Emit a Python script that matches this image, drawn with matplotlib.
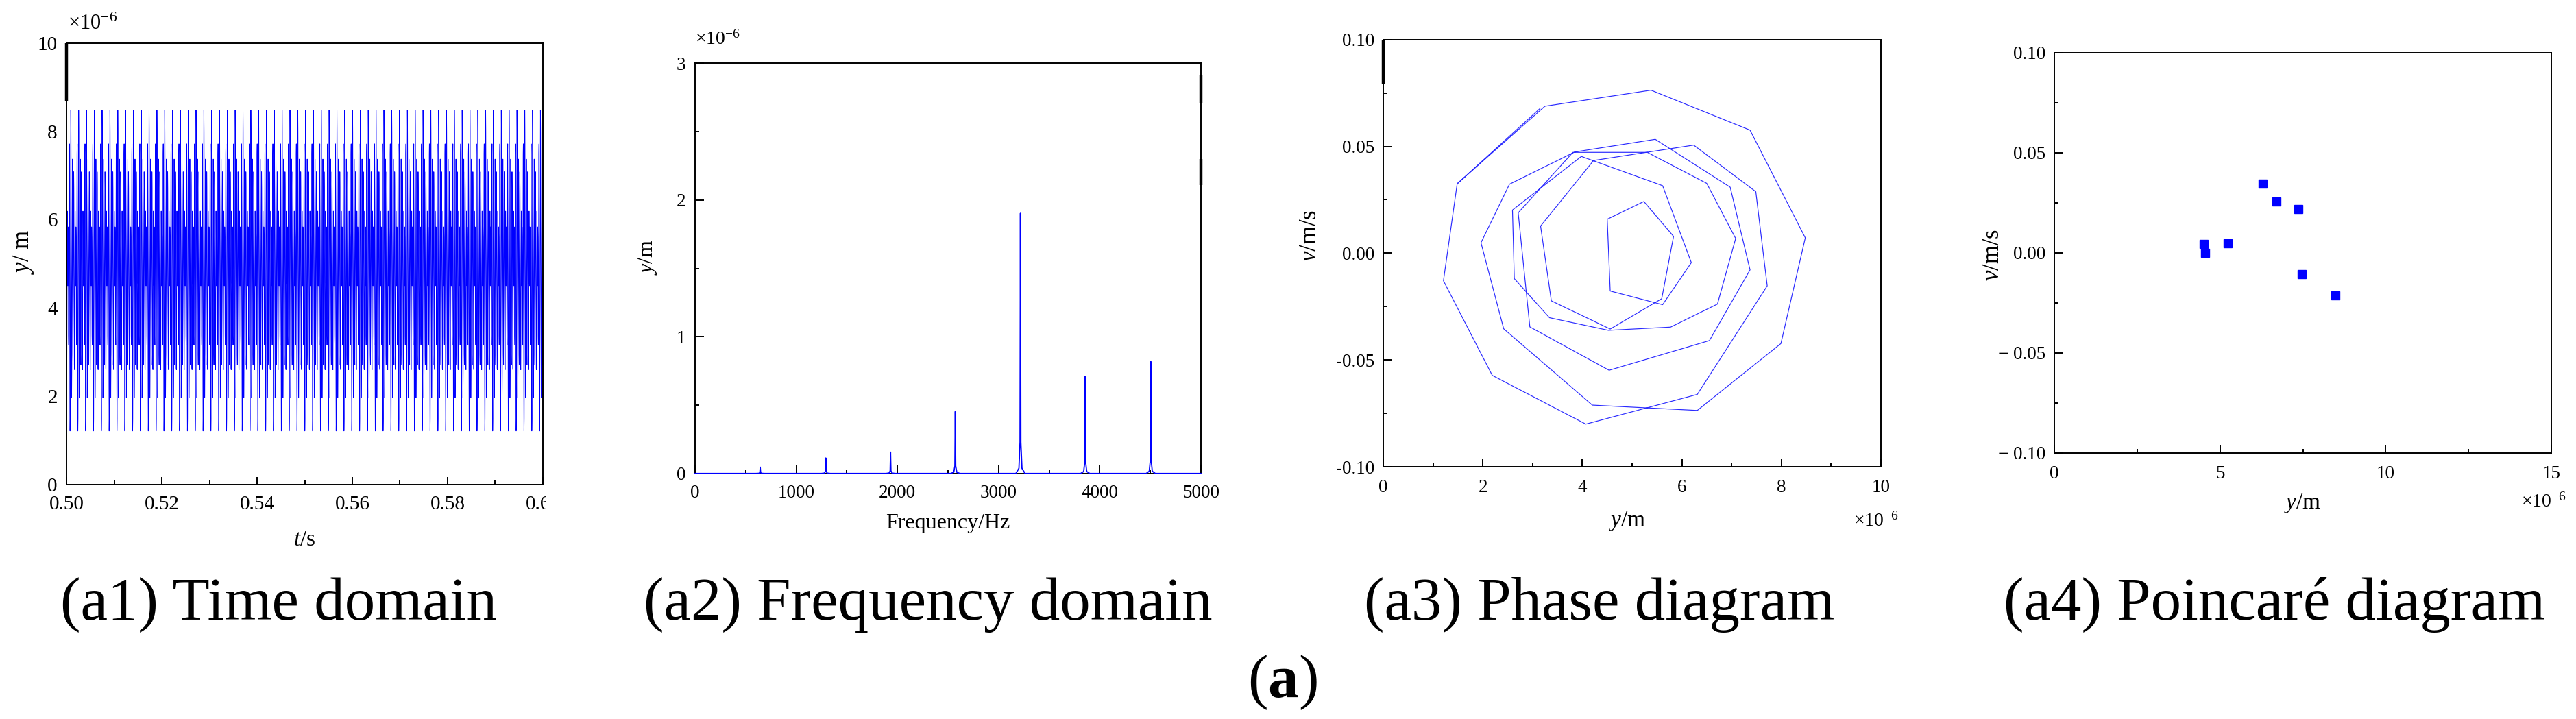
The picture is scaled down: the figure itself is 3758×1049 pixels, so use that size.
import numpy as np
import matplotlib
matplotlib.use('Agg')
import matplotlib.pyplot as plt
from matplotlib.ticker import MultipleLocator, FormatStrFormatter, FuncFormatter
from matplotlib.patches import Rectangle

plt.rcParams['font.family'] = ['Liberation Serif', 'DejaVu Serif']
plt.rcParams['mathtext.fontset'] = 'custom'
plt.rcParams['mathtext.rm'] = 'Liberation Serif'
plt.rcParams['mathtext.it'] = 'Liberation Serif:italic'
plt.rcParams['mathtext.bf'] = 'Liberation Serif:bold'
plt.rcParams['axes.unicode_minus'] = False

# (a3) phase orbit read vertex by vertex, y in 1e-6 m, v in m/s
# one period (first n_period samples) plus two more samples at the end
orbit_y = [1.485, 3.248, 5.38, 7.37, 8.48, 7.99, 6.31, 4.20, 2.42, 1.963,
           2.536, 3.85, 5.466, 6.971, 7.37, 6.554, 4.538, 2.945, 2.711, 3.81,
           5.305, 6.499, 7.081, 6.715, 5.773, 4.525, 3.34, 2.633, 2.596, 3.98,
           5.613, 6.19, 5.613, 4.56, 4.50, 5.236, 5.833, 5.595, 4.56, 3.377,
           3.161, 4.226, 6.237, 7.486, 7.715, 6.31, 4.07, 2.19, 1.209,
           1.485, 3.147]
orbit_v = [0.0325, 0.0688, 0.0763, 0.0576, 0.0072, -0.0423, -0.0736, -0.0711, -0.0354, 0.0049,
           0.0323, 0.0474, 0.0533, 0.0309, -0.0078, -0.0409, -0.0548, -0.0345, 0.0189, 0.0472,
           0.0472, 0.0327, 0.0069, -0.0238, -0.0346, -0.0361, -0.0302, -0.0119, 0.0202, 0.0453,
           0.0316, -0.0044, -0.0241, -0.0177, 0.0159, 0.0242, 0.0079, -0.0213, -0.0355, -0.0223,
           0.0127, 0.0434, 0.0506, 0.0288, -0.0153, -0.0661, -0.0800, -0.0572, -0.0129,
           0.0325, 0.0677]
n_period = 49

# (a1) the same samples repeat; spike spacing and first spike
t_period = 0.001643
t_first_peak = 0.50091

# (a2) spectrum peaks
peak_freq = [644, 1292, 1932, 2572, 3216, 3856, 4504]
peak_amp = [0.046, 0.113, 0.156, 0.453, 1.903, 0.711, 0.818]

# (a4) Poincare points
poin_y = [4.52, 4.55, 5.23, 6.28, 6.70, 7.37, 7.47, 8.48]
poin_v = [0.0043, 0.0000, 0.0046, 0.0345, 0.0256, 0.0219, -0.0106, -0.0212]

captions = ['(a1) Time domain', '(a2) Frequency domain', '(a3) Phase diagram', '(a4) Poincaré diagram']

W, H = 3758, 1049
fig = plt.figure(figsize=(W / 100, H / 100), dpi=100)


def add_ax(x0, x1, y0, y1):
    # pixel box (top-left origin) -> figure fraction
    return fig.add_axes([x0 / W, 1 - y1 / H, (x1 - x0) / W, (y1 - y0) / H])


def style(ax, fs, xpad, ypad):
    for s in ax.spines.values():
        s.set_linewidth(1.4)
    ax.tick_params(which='both', direction='in', width=1.4, labelsize=fs,
                   top=False, right=False)
    ax.tick_params(which='major', length=9)
    ax.tick_params(which='minor', length=4.5)
    ax.tick_params(axis='x', which='both', pad=xpad)
    ax.tick_params(axis='y', which='both', pad=ypad)


def thick(ax, x, y0, y1):
    ax.plot([x, x], [y0, y1], transform=ax.transAxes, color='k', lw=3.2,
            clip_on=False, solid_capstyle='butt', zorder=5)


blue = '#0000ff'
offs = r'$\times$10$^{-6}$'

# ---- (a1) time domain
ax1 = add_ax(97, 792, 62.8, 706.6)
y_one = np.array(orbit_y[:n_period])
dt = t_period / n_period
k = np.arange(int(round(0.1 / dt)) + 1)
t = 0.5 + k * dt
shift = int(round((t_first_peak - 0.5) / dt))
y_t = y_one[(k - shift + int(np.argmax(y_one))) % n_period]
ax1.plot(t, y_t, color=blue, lw=0.7)
ax1.set_xlim(0.5, 0.6)
ax1.set_ylim(0, 10)
ax1.xaxis.set_major_locator(MultipleLocator(0.02))
ax1.xaxis.set_minor_locator(MultipleLocator(0.01))
ax1.yaxis.set_major_locator(MultipleLocator(2))
ax1.xaxis.set_major_formatter(FormatStrFormatter('%.2f'))
style(ax1, 21, 11.5, 9.5)
ax1.tick_params(axis='y', which='both', length=0)
ax1.tick_params(axis='x', which='major', length=8)
ax1.tick_params(axis='x', which='minor', length=4.5)
thick(ax1, 0, 0.868, 1.0)
ax1.text(0.499, -0.126, r'$t$/s', transform=ax1.transAxes, ha='center', va='center', fontsize=24)
ax1.text(-0.091, 0.527, r'$y$/ m', transform=ax1.transAxes, ha='center', va='center',
         rotation=90, fontsize=25)
ax1.text(0.003, 1.042, offs, transform=ax1.transAxes, ha='left', va='center', fontsize=22)

# ---- (a2) frequency domain
ax2 = add_ax(1014, 1752, 92.3, 690.8)
shape_dx = np.array([-45, -15, -4, 0, 4, 15, 45])
shape_h = np.array([0, 0.02, 0.12, 1, 0.12, 0.02, 0])
fx, fy = [0.0], [0.0]
for f, a in zip(peak_freq, peak_amp):
    fx.extend(f + shape_dx)
    fy.extend(a * shape_h)
fx.append(5000.0)
fy.append(0.0)
ax2.plot(fx, fy, color=blue, lw=1.3, clip_on=False, zorder=3)
ax2.set_xlim(0, 5000)
ax2.set_ylim(0, 3)
ax2.xaxis.set_major_locator(MultipleLocator(1000))
ax2.xaxis.set_minor_locator(MultipleLocator(500))
ax2.yaxis.set_major_locator(MultipleLocator(1))
ax2.yaxis.set_minor_locator(MultipleLocator(0.5))
style(ax2, 19.5, 12, 10)
thick(ax2, 1, 0.904, 0.970)
thick(ax2, 1, 0.703, 0.766)
ax2.text(0.5, -0.122, 'Frequency/Hz', transform=ax2.transAxes, ha='center', va='center', fontsize=23)
ax2.text(-0.0935, 0.528, r'$y$/m', transform=ax2.transAxes, ha='center', va='center',
         rotation=90, fontsize=23)
ax2.text(0.0, 1.059, offs, transform=ax2.transAxes, ha='left', va='center', fontsize=20)

# ---- (a3) phase diagram
ax3 = add_ax(2018, 2744, 57.7, 681.1)
ax3.plot(orbit_y, orbit_v, color='#2a2aff', lw=0.85)
ax3.set_xlim(0, 10)
ax3.set_ylim(-0.1, 0.1)
ax3.xaxis.set_major_locator(MultipleLocator(2))
ax3.xaxis.set_minor_locator(MultipleLocator(1))
ax3.yaxis.set_major_locator(MultipleLocator(0.05))
ax3.yaxis.set_minor_locator(MultipleLocator(0.025))
ax3.yaxis.set_major_formatter(FormatStrFormatter('%.2f'))
style(ax3, 19.5, 13, 9.5)
thick(ax3, 0, 0.896, 1.0)
ax3.text(0.49, -0.127, r'$y$/m', transform=ax3.transAxes, ha='center', va='center', fontsize=24)
ax3.text(-0.147, 0.541, r'$v$/m/s', transform=ax3.transAxes, ha='center', va='center',
         rotation=90, fontsize=25)
ax3.text(0.945, -0.127, offs, transform=ax3.transAxes, ha='left', va='center', fontsize=20)

# ---- (a4) Poincare diagram
ax4 = add_ax(2997, 3722, 76.5, 660.7)
ax4.plot(poin_y, poin_v, linestyle='none', marker='s', ms=8.5, color=blue)
ax4.set_xlim(0, 15)
ax4.set_ylim(-0.1, 0.1)
ax4.xaxis.set_major_locator(MultipleLocator(5))
ax4.xaxis.set_minor_locator(MultipleLocator(2.5))
ax4.yaxis.set_major_locator(MultipleLocator(0.05))
ax4.yaxis.set_minor_locator(MultipleLocator(0.025))
ax4.yaxis.set_major_formatter(FuncFormatter(
    lambda v, p: '\u2212 %.2f' % -v if v < -1e-9 else '%.2f' % abs(v)))
style(ax4, 19.5, 13, 9)
ax4.text(0.499, -0.127, r'$y$/m', transform=ax4.transAxes, ha='center', va='center', fontsize=24)
ax4.text(-0.123, 0.494, r'$v$/m/s', transform=ax4.transAxes, ha='center', va='center',
         rotation=90, fontsize=25)
ax4.text(0.939, -0.122, offs, transform=ax4.transAxes, ha='left', va='center', fontsize=20)

# last time label is cut at the panel edge in the source
fig.add_artist(Rectangle((796 / W, 1 - 765 / H), 40 / W, 50 / H, transform=fig.transFigure,
                         facecolor='white', edgecolor='none', zorder=10))

# captions
for cx, txt in zip([407, 1354, 2333, 3318], captions):
    fig.text(cx / W, 1 - 904 / H, txt, ha='center', va='baseline', fontsize=64)
fig.text(1871 / W, 1 - 1017 / H, r'($\mathbf{a}$)', ha='center', va='baseline', fontsize=64)

fig.savefig('out.png', dpi=100)
